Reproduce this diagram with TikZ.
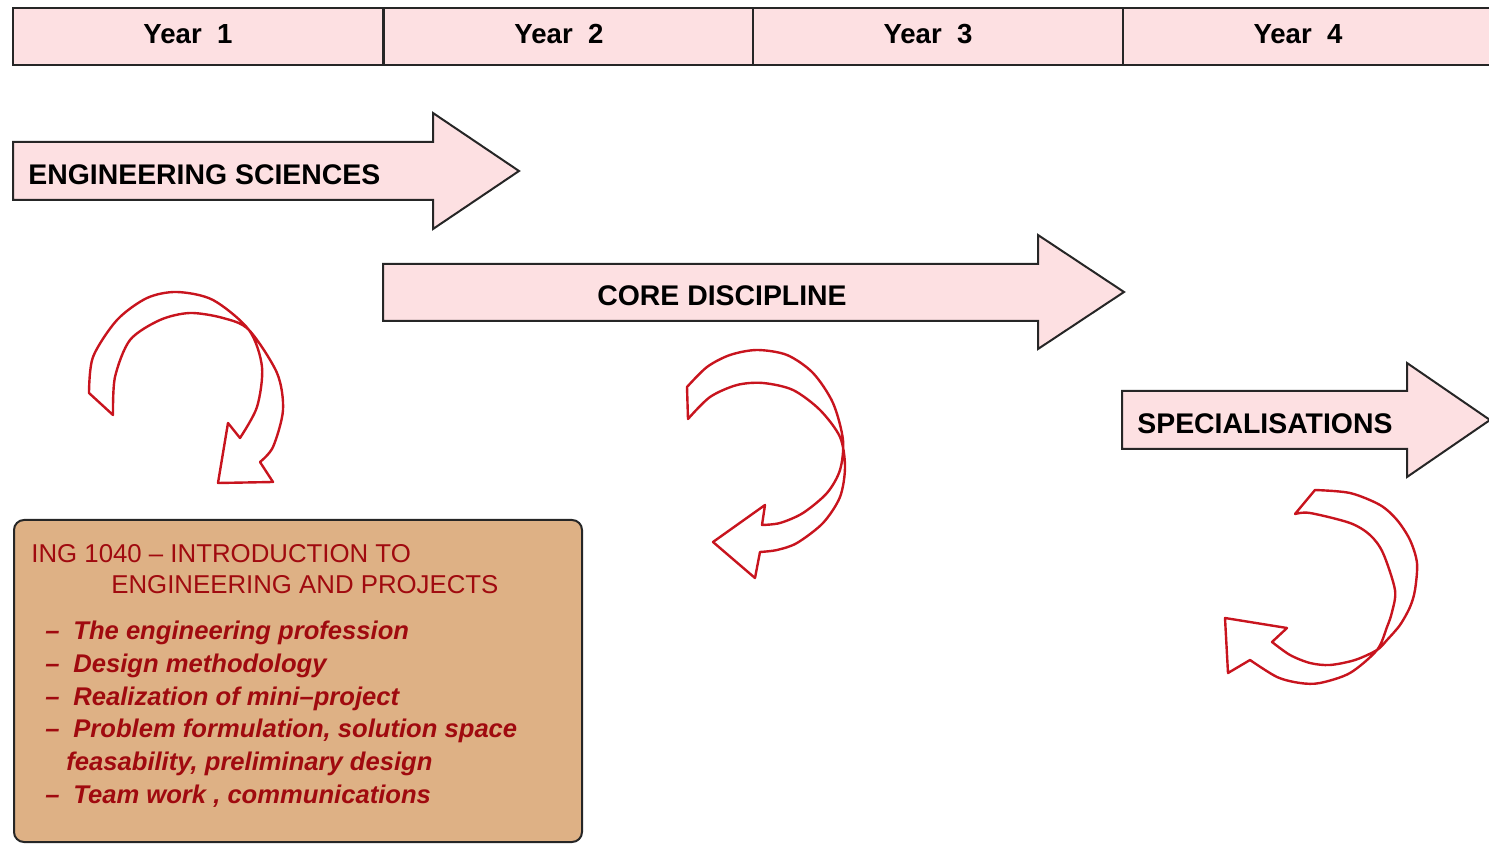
\documentclass[tikz,border=0pt]{standalone}
\usepackage{fontspec}
\setmainfont{Liberation Sans}

\definecolor{rowpink}{RGB}{253,224,226}
\definecolor{boxtan}{RGB}{222,177,133}
\definecolor{inkred}{RGB}{160,10,15}
\definecolor{curlred}{RGB}{200,20,30}

\begin{document}
\begin{tikzpicture}[x=0.5pt,y=-0.5pt,
	yearcell/.style={draw=black!85,fill=rowpink,line width=1pt},
	yearlabel/.style={font=\fontsize{13.8}{16}\selectfont\bfseries,inner sep=0pt},
	banner/.style={draw=black!85,fill=rowpink,line width=1pt},
	bannerlabel/.style={font=\fontsize{14.2}{17}\selectfont\bfseries,inner sep=0pt},
	curl/.style={draw=curlred,line width=1.2pt,line join=round},
	headline/.style={font=\fontsize{12.9}{15}\selectfont,text=inkred,inner sep=0pt,anchor=base west},
	topic/.style={font=\fontsize{12.8}{15}\selectfont\bfseries\itshape,text=inkred,inner sep=0pt,anchor=base west}]

	\useasboundingbox (0,0) rectangle (1489,844);

	% years along the top
	\foreach \x [count=\i] in {13,384,753,1123} {
		\draw[yearcell] (\x,8) rectangle ++(370,57);
		\node[yearlabel] (year\i) at (\x+175,34) {Year~~\i};
	}

	% the three streams
	\draw[banner] (13,142) -- (433,142) -- (433,113) -- (519,171) -- (433,229) -- (433,200) -- (13,200) -- cycle;
	\node[bannerlabel,anchor=west] (sciences) at (28,175) {ENGINEERING SCIENCES};

	\draw[banner] (383,264) -- (1038,264) -- (1038,235) -- (1124,292) -- (1038,349) -- (1038,321) -- (383,321) -- cycle;
	\node[bannerlabel] (core) at (722,296) {CORE DISCIPLINE};

	\draw[banner] (1122,391) -- (1407,391) -- (1407,363) -- (1490,420) -- (1407,477) -- (1407,449) -- (1122,449) -- cycle;
	\node[bannerlabel,anchor=west] (special) at (1137,424) {SPECIALISATIONS};

	% curled arrows under each stream
	\draw[curl] plot[smooth] coordinates {(89,393) (93,357) (117,320) (147,298) (177,292) (213,300) (249,330) (262,367) (257,407) (240,438)}
		-- (228,423) -- (218,483) -- (273,482) -- (260,462)
		-- plot[smooth] coordinates {(260,462) (273,447) (283,410) (277,373) (249,330) (223,318) (190,313) (160,320) (130,340) (115,377) (113,415)}
		-- cycle;

	\draw[curl] plot[smooth] coordinates {(687,387) (707,367) (730,355) (757,350) (787,355) (813,373) (833,403) (843,440) (840,470) (827,493) (803,513) (780,523) (762,525)}
		-- (765,505) -- (713,542) -- (755,578) -- (760,552)
		-- plot[smooth] coordinates {(760,552) (777,550) (797,543) (823,523) (840,497) (845,467) (840,437) (820,410) (793,390) (763,383) (737,385) (710,397) (688,419)}
		-- cycle;

	\draw[curl] plot[smooth] coordinates {(1315,490) (1350,493) (1380,505) (1397,520) (1410,540) (1417,563) (1415,590) (1410,607) (1400,625) (1387,640) (1377,650) (1355,660) (1330,665) (1310,663) (1290,655) (1272,642)}
		-- (1287,628) -- (1225,618) -- (1228,673) -- (1250,660)
		-- plot[smooth] coordinates {(1250,660) (1277,677) (1300,683) (1320,683) (1350,673) (1377,650) (1387,627) (1392,612) (1395,590) (1383,553) (1370,535) (1350,523) (1310,513) (1295,514)}
		-- cycle;

	% first-year course
	\draw[draw=black!85,fill=boxtan,line width=1pt,rounded corners=5pt] (14,520) rectangle (582,842);
	\node[headline] (title) at (31,562) {ING 1040 -- INTRODUCTION TO};
	\node[headline] (subtitle) at (111,593) {ENGINEERING AND PROJECTS};

	\foreach \y/\t [count=\i] in {639/The engineering profession, 672/Design methodology, 705/Realization of mini--project, {737/Problem formulation, solution space}, {803/Team work , communications}} {
		\node[topic] (dash\i) at (45,\y) {--};
		\node[topic] (topic\i) at (73,\y) {\t};
	}
	\node[topic] (topic6) at (66,770) {feasability, preliminary design};

\end{tikzpicture}
\end{document}
